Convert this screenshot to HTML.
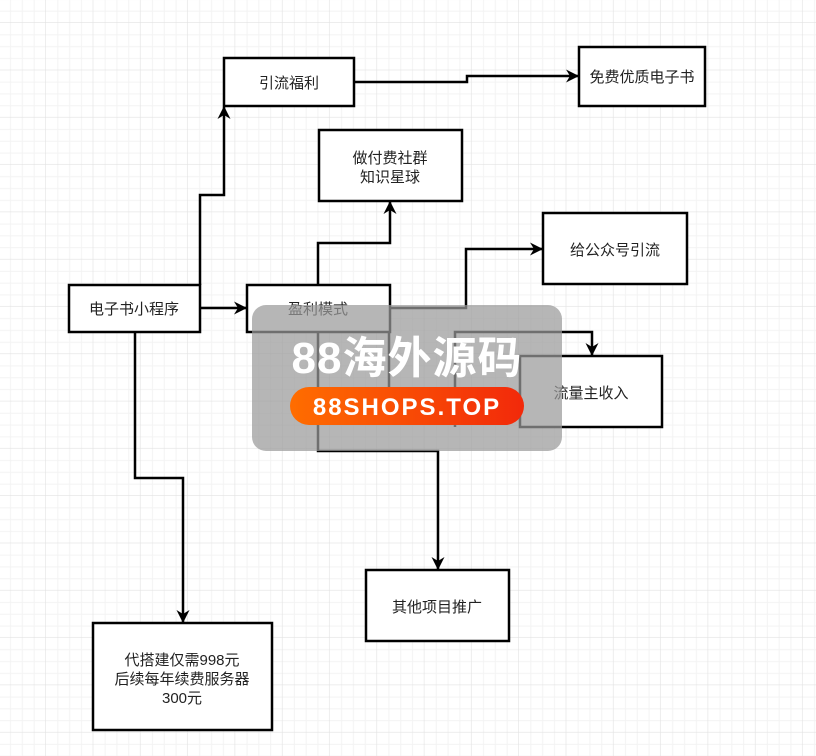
<!DOCTYPE html>
<html><head><meta charset="utf-8"><style>
body{margin:0;width:816px;height:756px;overflow:hidden;background:#fff}
svg{display:block}
text{font-family:"Liberation Sans","Noto Sans CJK SC",sans-serif;font-size:15px;fill:#222}
</style></head><body>
<svg width="816" height="756" viewBox="0 0 816 756" xmlns="http://www.w3.org/2000/svg">
<defs>
<pattern id="g" x="-1.3" y="-24.3" width="47.3" height="47.3" patternUnits="userSpaceOnUse">
<path d="M11.8 0V47.3M23.65 0V47.3M35.5 0V47.3M0 11.8H47.3M0 23.65H47.3M0 35.5H47.3" stroke="#f3f3f3" stroke-width="1"/>
<path d="M47.3 0V47.3M0 47.3H47.3" stroke="#e2e2e2" stroke-width="1.2"/>
</pattern>
<marker id="a" markerWidth="14" markerHeight="14" refX="12" refY="6.5" orient="auto" markerUnits="userSpaceOnUse">
<path d="M0,0 L13,6.5 L0,13 L4,6.5 Z" fill="#000"/>
</marker>
<linearGradient id="og" x1="0" x2="1"><stop offset="0" stop-color="#ff6d00"/><stop offset="1" stop-color="#f2290a"/></linearGradient>
</defs>
<rect width="816" height="756" fill="url(#g)"/>
<g fill="none" stroke="#000" stroke-width="2.5">
<path d="M200 285V195H224V107" marker-end="url(#a)"/>
<path d="M200 308H246" marker-end="url(#a)"/>
<path d="M354 82H467V76H578" marker-end="url(#a)"/>
<path d="M318 285V243H390V202" marker-end="url(#a)"/>
<path d="M390 308H466V249H542" marker-end="url(#a)"/>
<path d="M455 427V332H592V355" marker-end="url(#a)"/>
<path d="M389 332V387"/>
<path d="M318 332V451H438V569" marker-end="url(#a)"/>
<path d="M135 332V478H183V622" marker-end="url(#a)"/>
</g>
<g fill="#fff" stroke="#000" stroke-width="2.5">
<rect x="224" y="58" width="130" height="48"/>
<rect x="579" y="47" width="126" height="59"/>
<rect x="319" y="130" width="143" height="71"/>
<rect x="543" y="213" width="144" height="71"/>
<rect x="69" y="285" width="131" height="47"/>
<rect x="247" y="285" width="143" height="47"/>
<rect x="520" y="356" width="142" height="71"/>
<rect x="366" y="570" width="143" height="71"/>
<rect x="93" y="623" width="179" height="107"/>
</g>
<g text-anchor="middle">
<text x="289" y="88">引流福利</text>
<text x="642" y="82">免费优质电子书</text>
<text x="390" y="163">做付费社群</text>
<text x="390" y="182">知识星球</text>
<text x="615" y="255">给公众号引流</text>
<text x="134" y="314">电子书小程序</text>
<text x="318" y="314">盈利模式</text>
<text x="591" y="398">流量主收入</text>
<text x="437" y="612">其他项目推广</text>
<text x="182" y="665">代搭建仅需998元</text>
<text x="182" y="684">后续每年续费服务器</text>
<text x="182" y="703">300元</text>
</g>
<rect x="252" y="305" width="310" height="146" rx="14" fill="#9a9a9a" fill-opacity="0.72"/>
<text x="407" y="373" text-anchor="middle" style="font-size:44px;font-weight:bold;fill:#fff;letter-spacing:1px">88海外源码</text>
<rect x="290" y="387" width="234" height="38" rx="19" fill="url(#og)"/>
<text x="407" y="415" text-anchor="middle" style="font-size:24px;font-weight:bold;fill:#fff;letter-spacing:2px">88SHOPS.TOP</text>
</svg>
</body></html>
